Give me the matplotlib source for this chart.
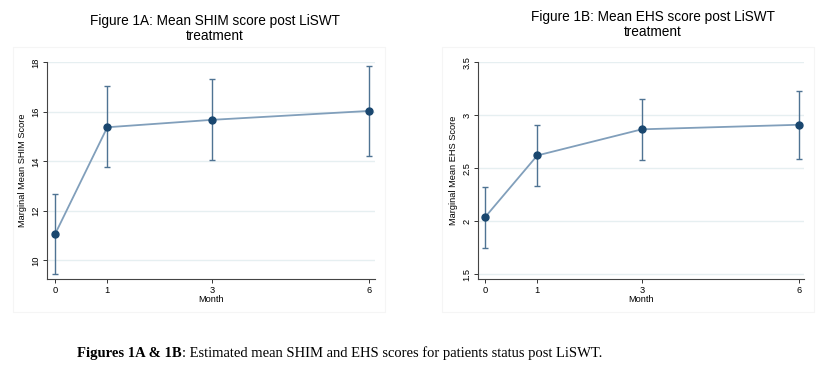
import matplotlib.pyplot as plt
from matplotlib.patches import Rectangle

W, H = 821, 387
DPI = 100

MONTHS = [0, 1, 3, 6]

# Figure 1A: SHIM
SHIM_MEAN = [11.05, 15.38, 15.68, 16.04]
SHIM_LO = [9.45, 13.77, 14.05, 14.23]
SHIM_HI = [12.68, 17.03, 17.33, 17.87]
SHIM_TICKS = [10, 12, 14, 16, 18]

# Figure 1B: EHS
EHS_MEAN = [2.036, 2.62, 2.867, 2.91]
EHS_LO = [1.75, 2.33, 2.58, 2.59]
EHS_HI = [2.32, 2.905, 3.157, 3.23]
EHS_TICKS = [1.5, 2, 2.5, 3, 3.5]
EHS_TICKLABELS = ["1.5", "2", "2.5", "3", "3.5"]

LINE_C = "#819fbb"
MARK_C = "#1a476f"
ERR_C = "#4f7393"
GRID_C = "#e6eff1"
TICK_FS = 6.7

plt.rcParams["font.family"] = ["Liberation Sans", "DejaVu Sans"]

fig = plt.figure(figsize=(W / DPI, H / DPI), dpi=DPI)


def px_axes(x0, y0, x1, y1):
    return fig.add_axes([x0 / W, 1 - y1 / H, (x1 - x0) / W, (y1 - y0) / H])


def panel(ax, mean, lo, hi, ticks, ticklabels, ylabel, xlim, ylim):
    err = [[m - l for m, l in zip(mean, lo)], [h - m for m, h in zip(mean, hi)]]
    ax.errorbar(MONTHS, mean, yerr=err, fmt="none", ecolor=ERR_C,
                elinewidth=1.0, capsize=2, capthick=1.0, zorder=2)
    ax.plot(MONTHS, mean, color=LINE_C, lw=1.3, zorder=3)
    ax.plot(MONTHS, mean, "o", color=MARK_C, ms=5, zorder=4)
    ax.set_xlim(*xlim)
    ax.set_ylim(*ylim)
    ax.set_xticks(MONTHS)
    ax.set_yticks(ticks)
    ax.set_yticklabels(ticklabels, rotation=90, va="center")
    ax.tick_params(axis="both", labelsize=TICK_FS, length=3, width=0.7,
                   color="#333333", pad=2)
    ax.set_xlabel("Month", fontsize=TICK_FS, labelpad=0)
    ax.set_ylabel(ylabel, fontsize=TICK_FS, labelpad=3)
    ax.grid(axis="y", color=GRID_C, lw=1.0)
    ax.set_axisbelow(True)
    for s in ["top", "right"]:
        ax.spines[s].set_visible(False)
    for s in ["left", "bottom"]:
        ax.spines[s].set_color("#444444")
        ax.spines[s].set_linewidth(0.8)


# faint outer plot-region boxes
for x0, x1 in [(13, 385), (442, 814)]:
    fig.add_artist(Rectangle((x0 / W, 1 - 312 / H), (x1 - x0) / W, 265 / H,
                             transform=fig.transFigure, fill=False,
                             edgecolor="#f5f5f5", lw=0.8))

ax1 = px_axes(47, 62, 375, 279.3)
panel(ax1, SHIM_MEAN, SHIM_LO, SHIM_HI, SHIM_TICKS,
      [str(t) for t in SHIM_TICKS], "Marginal Mean SHIM Score",
      (-0.153, 6.12), (9.23, 18.02))

ax2 = px_axes(478.3, 62, 804.3, 279.3)
panel(ax2, EHS_MEAN, EHS_LO, EHS_HI, EHS_TICKS, EHS_TICKLABELS,
      "Marginal Mean EHS Score", (-0.128, 6.107), (1.45, 3.503))

# panel titles, one text per line
for cx, cy, line1 in [(215, 21, "Figure 1A: Mean SHIM score post LiSWT"),
                      (653, 17, "Figure 1B: Mean EHS score post LiSWT")]:
    fig.text(cx / W, 1 - cy / H, line1, ha="center", va="center", fontsize=9.8)
    fig.text(cx / W, 1 - (cy + 15) / H, "treatment", ha="center", va="center",
             fontsize=9.8)

# caption
cap_y = 1 - 357 / H
t1 = fig.text(77 / W, cap_y, "Figures 1A & 1B", fontsize=10.5, fontweight="bold",
              family="Liberation Serif", va="baseline")
fig.canvas.draw()
bb = t1.get_window_extent()
fig.text(bb.x1 / W, cap_y,
         ": Estimated mean SHIM and EHS scores for patients status post LiSWT.",
         fontsize=10.5, family="Liberation Serif", va="baseline")

fig.savefig("out.png", dpi=DPI)
